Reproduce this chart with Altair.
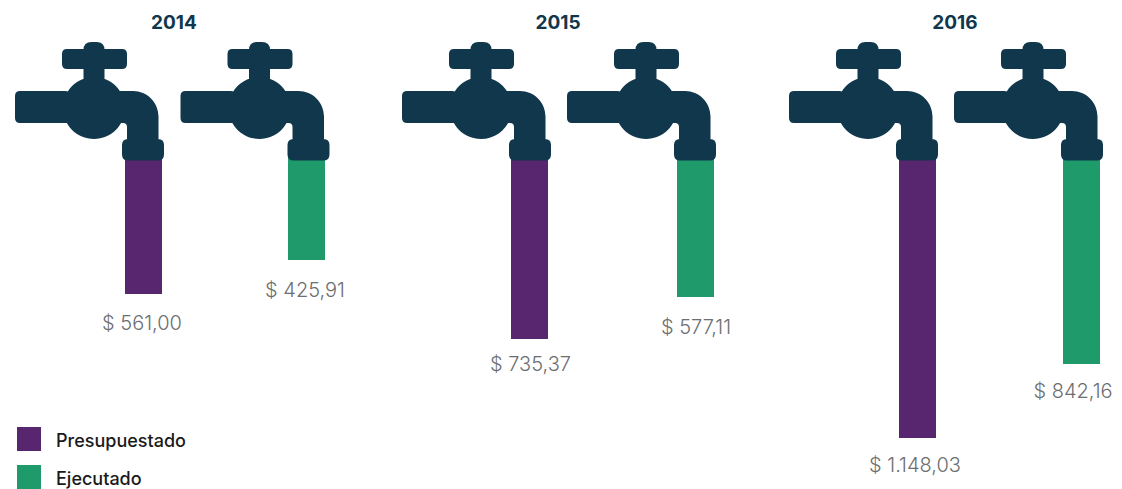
import altair as alt
import pandas as pd

# --- data ---
years = [2014, 2015, 2016]
series = ["Presupuestado", "Ejecutado"]
presupuestado = [561.00, 735.37, 1148.03]
ejecutado = [425.91, 577.11, 842.16]
etiquetas_p = ["$ 561,00", "$ 735,37", "$ 1.148,03"]
etiquetas_e = ["$ 425,91", "$ 577,11", "$ 842,16"]

# --- layout: scale ranges, in page pixels ---
M = 8
colors = ["#57266e", "#1f9b6b"]
NAVY = "#11374d"
FONT = "Inter"
slots = [0, 1, 2, 3, 4, 5]
tap_x = [94, 259.5, 481, 646, 868, 1033]
bar_x = [143.5, 306.5, 529.5, 695.5, 917.5, 1081.5]
label_x = [142, 305, 530.5, 696, 915, 1073]
year_x = [174, 558, 955]
val_dom = [0, 425.91, 561.00, 577.11, 735.37, 842.16, 1148.03]
bar_end = [155, 260, 294, 297, 339, 364, 438]
lab_dom = val_dom[1:]
lab_y = [291, 324, 328, 365, 392, 466]
leg_y = [439, 477]
leg_text_y = [441.5, 479.5]


def px(v):
    return [a - M for a in v]


def rr(x0, y0, x1, y1, r):
    return (
        f"M{x0+r} {y0}H{x1-r}Q{x1} {y0} {x1} {y0+r}V{y1-r}Q{x1} {y1} {x1-r} {y1}"
        f"H{x0+r}Q{x0} {y1} {x0} {y1-r}V{y0+r}Q{x0} {y0} {x0+r} {y0}Z"
    )


# tap glyph, drawn around the centre of its ball (symbol size 4 = 1 unit per pixel)
TAP = " ".join([
    rr(-10.5, -66, 10.5, -18, 8),
    rr(-32, -59, 33, -39, 5),
    rr(-79, -17, -24, 15, 5),
    "M-31 0A31 31 0 1 1 31 0A31 31 0 1 1 -31 0Z",
    "M0 -17H39A25.5 25.5 0 0 1 64.5 8.5V33H33V19Q33 15 29 15H0Z",
    rr(28, 31, 70, 52.5, 6),
])

rows = []
for i, y in enumerate(years):
    rows.append(dict(slot=2 * i, year=y, serie=series[0], valor=presupuestado[i], etiqueta=etiquetas_p[i]))
    rows.append(dict(slot=2 * i + 1, year=y, serie=series[1], valor=ejecutado[i], etiqueta=etiquetas_e[i]))
df = pd.DataFrame(rows)
legend_df = pd.DataFrame({"serie": series})

color_scale = alt.Scale(domain=series, range=colors)

bars = alt.Chart(df).mark_bar(size=37).encode(
    x=alt.X("slot:Q", axis=None, scale=alt.Scale(domain=slots, range=px(bar_x), padding=0)),
    y=alt.Y("valor:Q", axis=None, stack=None,
            scale=alt.Scale(domain=val_dom, range=px(bar_end), zero=False, nice=False)),
    y2=alt.datum(0),
    color=alt.Color("serie:N", scale=color_scale, legend=None),
)

taps = alt.Chart(df).mark_point(
    shape=TAP, filled=True, size=4, opacity=1, color=NAVY, strokeWidth=0
).encode(
    x=alt.X("slot:Q", axis=None, scale=alt.Scale(domain=slots, range=px(tap_x))),
    y=alt.value(108 - M),
)

labels = alt.Chart(df).mark_text(
    font=FONT, fontSize=20, fontWeight=300, color="#6d6e71", align="center", baseline="middle"
).encode(
    x=alt.X("slot:Q", axis=None, scale=alt.Scale(domain=slots, range=px(label_x))),
    y=alt.Y("valor:Q", axis=None,
            scale=alt.Scale(domain=lab_dom, range=px(lab_y), zero=False, nice=False)),
    text="etiqueta:N",
)

titles = alt.Chart(pd.DataFrame({"year": years})).mark_text(
    font=FONT, fontSize=19, fontWeight="bold", color=NAVY, align="center", baseline="middle"
).encode(
    x=alt.X("year:Q", axis=None, scale=alt.Scale(domain=years, range=px(year_x))),
    y=alt.value(23 - M),
    text=alt.Text("year:N"),
)

swatches = alt.Chart(legend_df).mark_square(size=576, opacity=1, strokeWidth=0).encode(
    x=alt.value(29 - M),
    y=alt.Y("serie:N", axis=None, scale=alt.Scale(domain=series, range=px(leg_y), padding=0)),
    color=alt.Color("serie:N", scale=color_scale, legend=None),
)

leg_text = alt.Chart(legend_df).mark_text(
    font=FONT, fontSize=18, fontWeight=500, color="#1a1a1a", align="left", baseline="middle"
).encode(
    x=alt.value(56 - M),
    y=alt.Y("serie:N", axis=None, scale=alt.Scale(domain=series, range=px(leg_text_y), padding=0)),
    text="serie:N",
)

chart = (
    alt.layer(bars, taps, labels, titles, swatches, leg_text)
    .resolve_scale(x="independent", y="independent", color="independent")
    .properties(width=1106, height=481, padding=0, autosize=alt.AutoSizeParams(type="none"))
    .configure_view(stroke=None)
)

chart.save("out.html", embed_options={"renderer": "svg", "actions": False})
